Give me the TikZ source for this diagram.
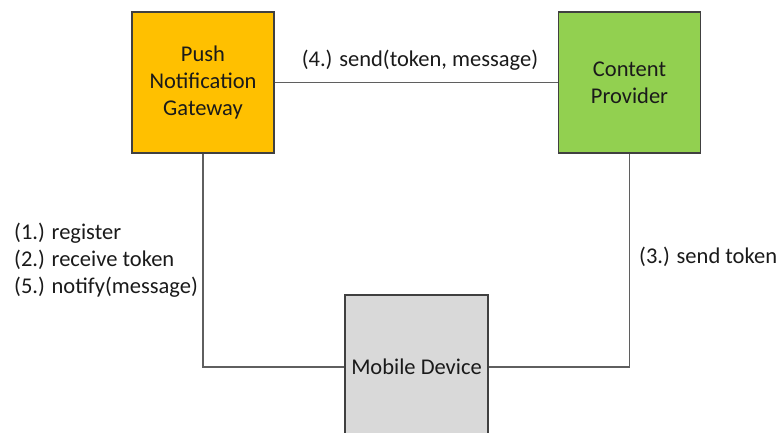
\documentclass[tikz,border=0pt]{standalone}
\usepackage{fontspec}
\setmainfont{Carlito}
\definecolor{gwfill}{HTML}{FFC000}
\definecolor{cpfill}{HTML}{92D050}
\definecolor{mdfill}{HTML}{D9D9D9}
\definecolor{edgecol}{HTML}{404040}
\definecolor{wirecol}{HTML}{5F5F5F}
\definecolor{txt}{HTML}{1A1A1A}
\tikzset{
  entity/.style={draw=edgecol, line width=1.2pt, minimum width=142pt, minimum height=141pt,
    align=center, text=txt, inner sep=0pt},
  wire/.style={draw=wirecol, line width=1.2pt},
  lbl/.style={text=txt, inner sep=0pt, align=left},
}
\begin{document}
\begin{tikzpicture}[x=1pt, y=-1pt, font=\fontsize{22.5}{27}\selectfont]
\path[use as bounding box] (0,0) rectangle (776,432);
\begin{scope}
\clip (0,0) rectangle (776,432);
\node[entity, fill=gwfill] (gw) at (203,82.5) {Push\\Notification\\Gateway};
\node[entity, fill=cpfill] (cp) at (629.5,82.5) {Content\\Provider};
\node[entity, fill=mdfill, minimum width=143pt, minimum height=144pt] (md) at (416.5,367) {Mobile Device};
\end{scope}
\draw[wire] (gw.east) -- (cp.west);
\draw[wire] (gw.south) |- (md.west);
\draw[wire] (cp.south) |- (md.east);
\node[lbl] (l4) at (420,60) {(4.) send(token, message)};
\node[lbl, anchor=west] (l125) at (14,260) {(1.) register\\(2.) receive token\\(5.) notify(message)};
\node[lbl, anchor=west] (l3) at (639,257) {(3.) send token};
\end{tikzpicture}
\end{document}
